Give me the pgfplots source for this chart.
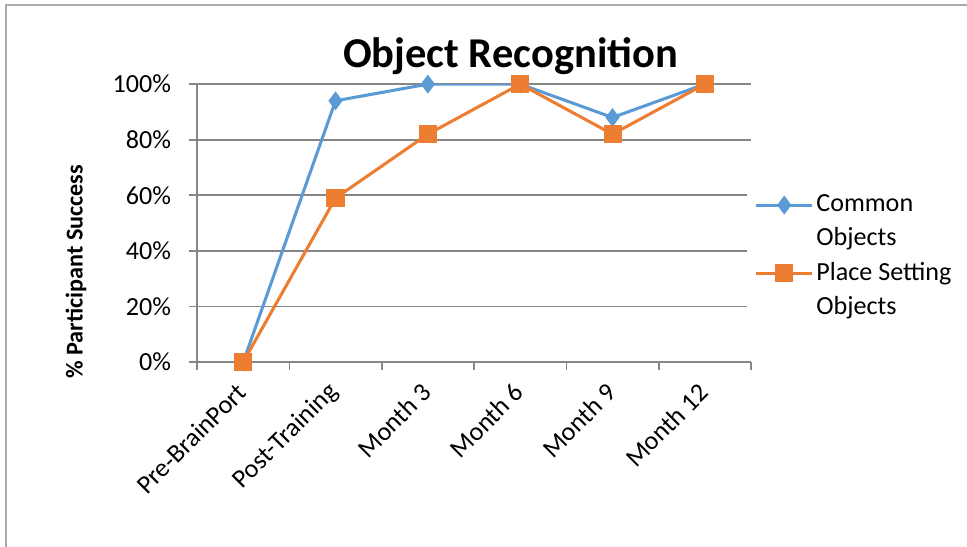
\documentclass[border=0pt]{standalone}
\usepackage{fontspec}
\setmainfont{Carlito}
\usepackage{pgfplots}
\pgfplotsset{compat=1.18}
\definecolor{serblue}{RGB}{91,155,213}
\definecolor{serorange}{RGB}{237,125,49}
\definecolor{gridgray}{RGB}{134,134,134}
\definecolor{framegray}{RGB}{170,170,170}

\begin{document}
\begin{tikzpicture}
\useasboundingbox (0,0) rectangle (348.1pt,196.6pt);
% chart frame (only left and top edges are in view)
\draw[framegray, line width=0.7pt] (2.2pt,-2pt) -- (2.2pt,194.8pt) -- (350pt,194.8pt);

\begin{axis}[
    at={(70.92pt,66.24pt)}, anchor=south west,
    scale only axis,
    width=199.44pt, height=100.08pt,
    xmin=-0.5, xmax=5.5, ymin=0, ymax=100,
    axis x line*=bottom, axis y line*=left,
    axis line style={gridgray, line width=0.6pt},
    xtick={0,...,5},
    xticklabels={Pre-BrainPort,Post-Training,Month 3,Month 6,Month 9,Month 12},
    major x tick style={draw=none},
    minor xtick={-0.5,0.5,...,5.5},
    minor tick length=2.9pt,
    ytick={0,20,...,100},
    yticklabels={0\%,20\%,40\%,60\%,80\%,100\%},
    major tick length=2.9pt,
    tick align=outside,
    tick style={gridgray, line width=0.6pt},
    ymajorgrids, grid style={gridgray, line width=0.6pt},
    ticklabel style={font=\fontsize{9.4}{11.5}\selectfont},
    xticklabel style={xshift=2pt, yshift=-4pt, rotate=45, anchor=east},
    yticklabel style={xshift=-2.9pt},
    legend style={at={(0.991,0.645)}, anchor=north west, draw=none,
        font=\fontsize{9.4}{12.3}\selectfont, cells={align=left},
        nodes={inner xsep=1pt}, row sep=0.5pt},
    legend cell align=left,
    legend image code/.code={
        \draw[mark repeat=2, mark phase=2, #1] plot coordinates {(0pt,6.15pt) (10pt,6.15pt) (20pt,6.15pt)};},
]
\addplot[serblue, line width=1.1pt, mark=diamond*, mark size=2.5pt,
    mark options={solid, fill=serblue}] coordinates {
    (0,0) (1,94) (2,100) (3,100) (4,88) (5,100)
};
\addlegendentry{Common\\Objects}
\addplot[serorange, line width=1.1pt, mark=square*, mark size=2.7pt,
    mark options={solid, fill=serorange}] coordinates {
    (0,0) (1,59) (2,82) (3,100) (4,82) (5,100)
};
\addlegendentry{Place Setting\\Objects}
\end{axis}

\node[anchor=base, font=\fontsize{15.3}{18}\selectfont\bfseries] at (183.8pt,172.4pt) {Object Recognition};
\node[rotate=90, font=\fontsize{8.7}{10}\selectfont\bfseries] at (27.4pt,98.8pt) {\% Participant Success};
\end{tikzpicture}
\end{document}
